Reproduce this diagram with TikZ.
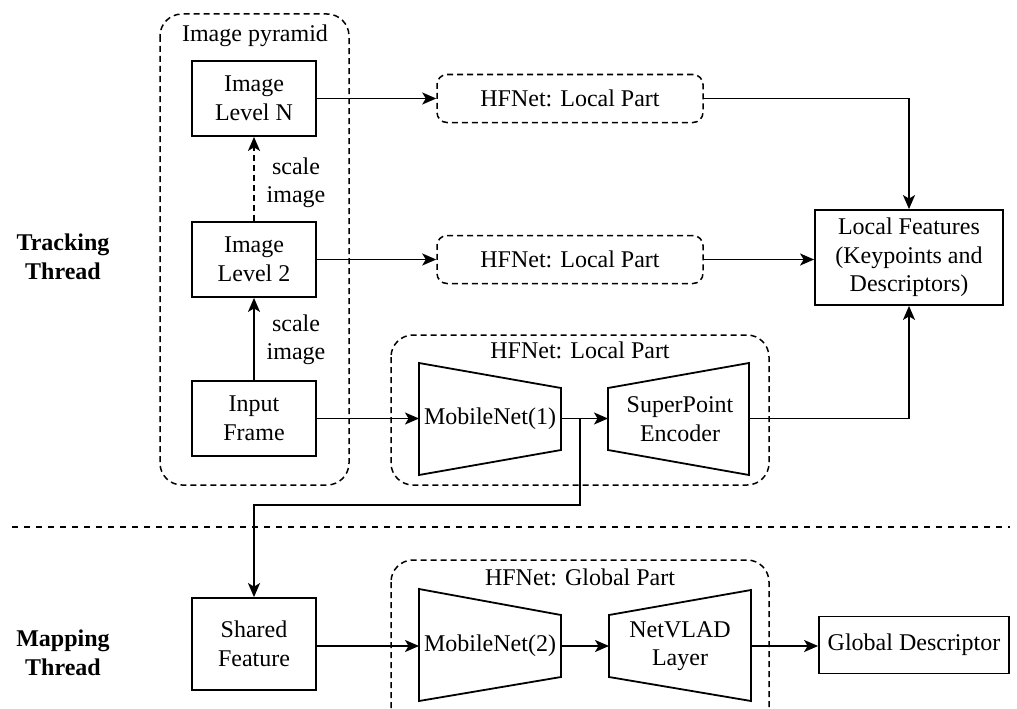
\documentclass[tikz,border=0pt]{standalone}
\usepackage{fontspec}
\setmainfont{Liberation Serif}
\usetikzlibrary{arrows.meta}
\begin{document}
\begin{tikzpicture}[x=1pt,y=-1pt,
  txt/.style={font=\fontsize{24}{28.5}\selectfont, align=center, inner sep=0pt},
  box/.style={draw, line width=1.8pt, txt},
  grp/.style={draw, dash pattern=on 6pt off 4pt, line width=1.5pt, rounded corners=22pt},
  hfbox/.style={draw, dash pattern=on 6pt off 4pt, line width=1.5pt, rounded corners=10pt, txt, minimum width=266pt, minimum height=48pt},
  trap/.style={draw, line width=1.8pt, fill=white},
  arr/.style={line width=1.8pt, -{Stealth[length=14pt,width=12pt,inset=3.5pt]}},
  thread/.style={font=\bfseries\fontsize{24}{28.5}\selectfont, align=center}]
\useasboundingbox (0,0) rectangle (1017,709);
% groups
\draw[grp] (160,14) rectangle (349,485);
\node[txt] (pyrlbl) at (255,36) {Image pyramid};
\draw[grp] (391,335) rectangle (769,485);
\node[txt] (loclbl) at (580,350) {HFNet: Local Part};
\draw[grp] (391,560) rectangle (769,730);
\node[txt] (glolbl) at (580,577) {HFNet: Global Part};
% separator
\draw[line width=1.5pt, dash pattern=on 6pt off 6pt] (12,527) -- (1010,527);
% thread labels
\node[thread] (tt) at (63,257) {Tracking\\Thread};
\node[thread] (mt) at (63,653) {Mapping\\Thread};
% boxes
\node[box, minimum width=124pt, minimum height=75pt] (lvn) at (254,98.5) {Image\\Level N};
\node[box, minimum width=124pt, minimum height=75pt] (lv2) at (254,259.5) {Image\\Level 2};
\node[box, minimum width=124pt, minimum height=75pt] (inp) at (254,418.5) {Input\\Frame};
\node[box, minimum width=124pt, minimum height=92pt] (shf) at (254,644) {Shared\\Feature};
\node[box, minimum width=188pt, minimum height=95pt] (lf) at (909,257.5) {Local Features\\(Keypoints and\\Descriptors)};
\node[box, minimum width=190pt, minimum height=57pt] (gd) at (914,645) {Global Descriptor};
\node[hfbox] (hf1) at (570,98.5) {HFNet: Local Part};
\node[hfbox] (hf2) at (570,259.5) {HFNet: Local Part};
% trapezoids
\draw[trap] (419,363) -- (561,388) -- (561,450) -- (419,475) -- cycle;
\draw[trap] (608,388) -- (749,363) -- (749,475) -- (608,450) -- cycle;
\draw[trap] (419,589) -- (561,615) -- (561,677) -- (419,701) -- cycle;
\draw[trap] (609,615) -- (751,590) -- (751,701) -- (609,677) -- cycle;
\node[txt] (mn1) at (490,419) {MobileNet(1)};
\node[txt] (sp) at (680,419) {SuperPoint\\Encoder};
\node[txt] (mn2) at (490,646) {MobileNet(2)};
\node[txt] (nv) at (680,646) {NetVLAD\\Layer};
\coordinate (mn1w) at (419,418.5);
\coordinate (mn1e) at (561,418.5);
\coordinate (spw) at (608,418.5);
\coordinate (spe) at (749,418.5);
\coordinate (mn2w) at (419,646);
\coordinate (mn2e) at (561,646);
\coordinate (nvw) at (609,646);
\coordinate (nve) at (751,646);
\coordinate (br) at (580,418.5);
% scale labels
\node[txt] (sc1) at (296,183) {scale\\image};
\node[txt] (sc2) at (296,340) {scale\\image};
% connectors
\draw[arr, dash pattern=on 6pt off 4pt] (lv2.north) -- (lvn.south);
\draw[arr] (inp.north) -- (lv2.south);
\draw[arr] (lvn.east) -- (hf1.west);
\draw[arr] (lv2.east) -- (hf2.west);
\draw[arr] (hf1.east) -| (lf.north);
\draw[arr] (hf2.east) -- (hf2.east -| lf.west);
\draw[arr] (inp.east |- mn1w) -- (mn1w);
\draw[arr] (mn1e) -- (spw);
\draw[arr] (spe) -| (lf.south);
\draw[arr] (br) -- (580,505) -| (shf.north);
\draw[arr] (shf.east |- mn2w) -- (mn2w);
\draw[arr] (mn2e) -- (nvw);
\draw[arr] (nve) -- (nve -| gd.west);
\end{tikzpicture}
\end{document}
